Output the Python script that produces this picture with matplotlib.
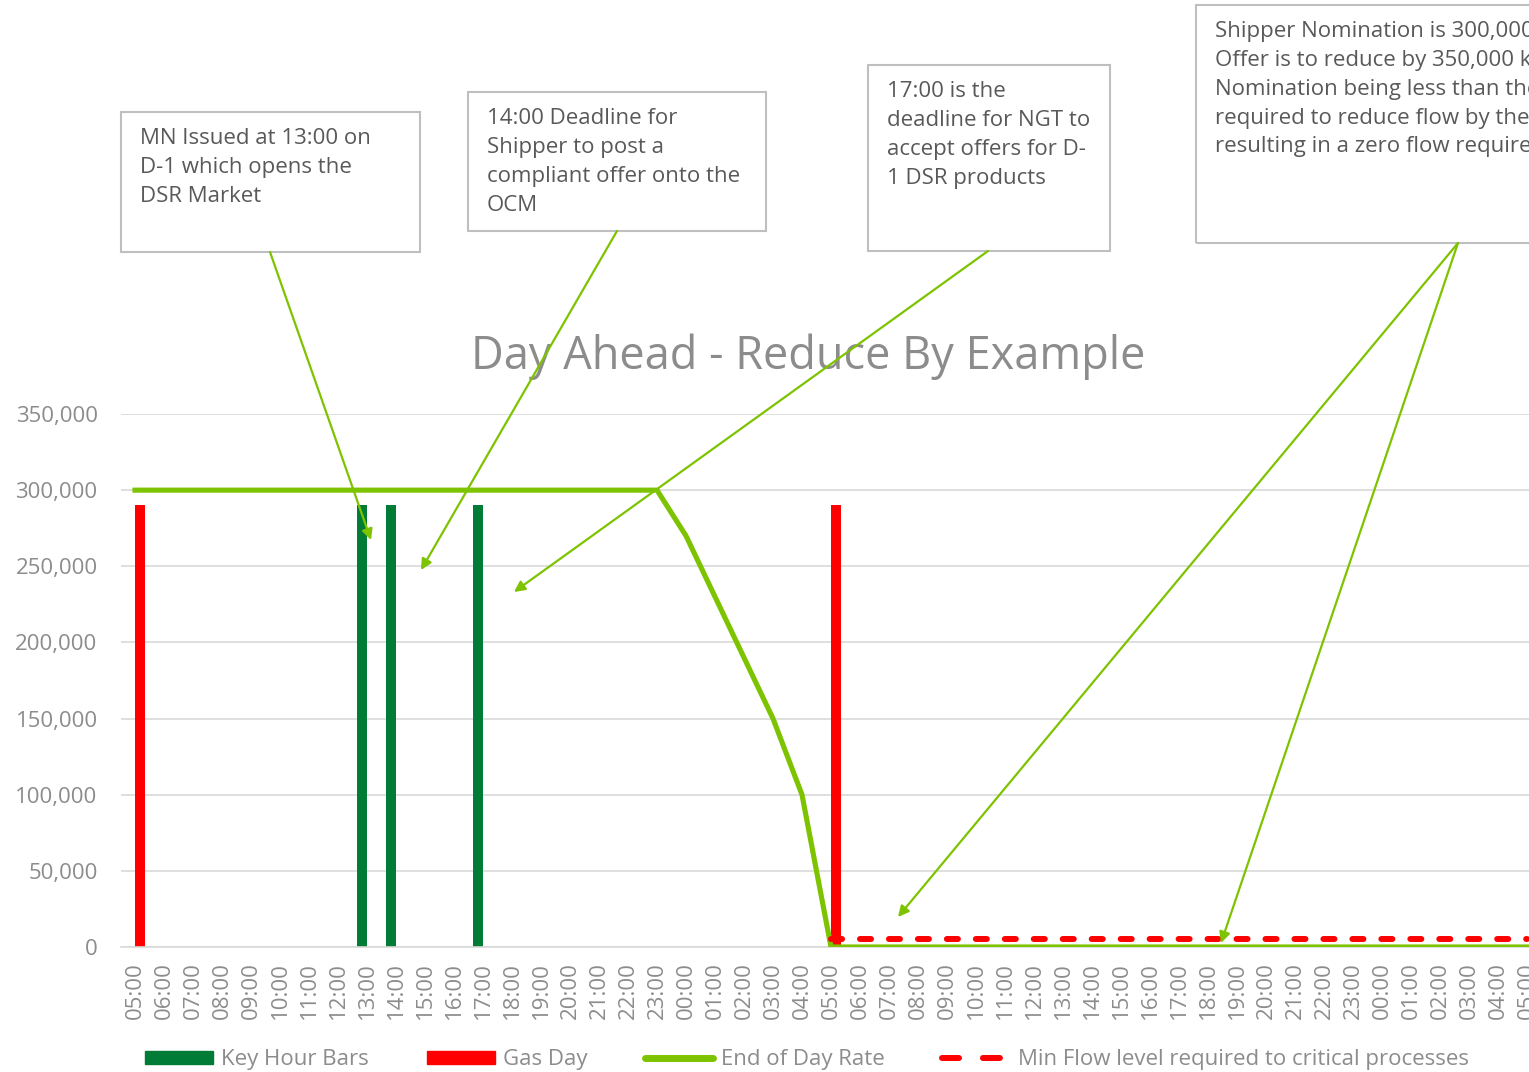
import matplotlib
matplotlib.use("Agg")
import matplotlib.pyplot as plt
from matplotlib.patches import Rectangle, Patch, FancyArrowPatch
from matplotlib.lines import Line2D
import numpy as np

plt.rcParams['font.family'] = ['Open Sans', 'DejaVu Sans']

# categories: two gas days of hourly slots, starting 05:00
hours = ["05:00", "06:00", "07:00", "08:00", "09:00", "10:00", "11:00", "12:00",
         "13:00", "14:00", "15:00", "16:00", "17:00", "18:00", "19:00", "20:00",
         "21:00", "22:00", "23:00", "00:00", "01:00", "02:00", "03:00", "04:00"]
labels = hours + hours + ["05:00"]

# series
key_hour_at = ["13:00", "14:00", "17:00"]          # day 1 only
key_hour_value = 290000
gas_day_idx = [0, 24]
gas_day_value = 290000
end_of_day_rate = [300000] * 19 + [270000, 230000, 190000, 150000, 100000] + [0] * 25
min_flow_level = [np.nan] * 24 + [5000] * 25

GREEN_BAR = "#007C36"
RED = "#FF0000"
LIME = "#7DC300"
GREY = "#8C8C8C"

W, H = 1529, 1072
fig = plt.figure(figsize=(W / 100, H / 100), dpi=100)

x = np.arange(len(labels))
left, right = 120.5, 120.5 + 29 * len(labels)
ax = fig.add_axes([left / W, (H - 947) / H, (right - left) / W, (947 - 414) / H])

kh = [labels.index(h) for h in key_hour_at]
bw = 0.36
ax.bar(np.array(kh) - bw / 2, [key_hour_value] * len(kh), width=bw, color=GREEN_BAR, zorder=2)
ax.bar(np.array(gas_day_idx) + bw / 2, [gas_day_value] * len(gas_day_idx), width=bw, color=RED, zorder=2)
ax.plot(x, end_of_day_rate, color=LIME, lw=3.7, zorder=3, solid_joinstyle='round')
ax.plot(x, min_flow_level, color=RED, lw=4.3, dashes=(1.85, 3.0), dash_capstyle='round', zorder=4)

ax.set_xlim(-0.5, len(labels) - 0.5)
ax.set_ylim(0, 350000)
ax.set_yticks(np.arange(0, 350001, 50000))
ax.set_yticklabels([f"{v:,}" for v in range(0, 350001, 50000)])
ax.set_xticks(x)
ax.set_xticklabels(labels, rotation=90)
ax.tick_params(axis='y', length=0, pad=16.5, labelsize=16, labelcolor=GREY)
ax.tick_params(axis='x', length=0, pad=11, labelsize=16, labelcolor=GREY)
ax.grid(axis='y', color="#D9D9D9", lw=1.2, zorder=0)
ax.set_axisbelow(True)
for s in ['top', 'right', 'left']:
    ax.spines[s].set_visible(False)
ax.spines['bottom'].set_color("#D9D9D9")
ax.spines['bottom'].set_linewidth(1.2)

fig.text(808 / W, 1 - 357 / H, "Day Ahead - Reduce By Example", ha='center', va='center',
         fontsize=32.5, color=GREY)

# callout boxes
def fp(px, py):
    return (px / W, 1 - py / H)

boxes = [
    ((121, 112, 420, 252), "MN Issued at 13:00 on\nD-1 which opens the\nDSR Market",
     [((270, 252), (371, 540))]),
    ((468, 92, 766, 231), "14:00 Deadline for\nShipper to post a\ncompliant offer onto the\nOCM",
     [((617, 231), (421, 570))]),
    ((868, 65, 1110, 251), "17:00 is the\ndeadline for NGT to\naccept offers for D-\n1 DSR products",
     [((988, 251), (514, 592))]),
    ((1196, 5, 1620, 243),
     "Shipper Nomination is 300,000 kWh\nOffer is to reduce by 350,000 kWh.\nNomination being less than the offer,\nrequired to reduce flow by the full\nresulting in a zero flow requirement",
     [((1458, 243), (898, 917)), ((1458, 243), (1221, 943))]),
]
for (x0, y0, x1, y1), txt, arrows in boxes:
    fig.add_artist(Rectangle(fp(x0, y1), (x1 - x0) / W, (y1 - y0) / H, transform=fig.transFigure,
                             fill=False, edgecolor="#BFBFBF", lw=1.5))
    fig.text((x0 + 19) / W, 1 - (y0 + 16) / H, txt, ha='left', va='top', fontsize=16,
             color="#595959", linespacing=1.49)
    for start, end in arrows:
        fig.add_artist(FancyArrowPatch(
            fp(*start), fp(*end), transform=fig.transFigure, arrowstyle='-|>',
            mutation_scale=16, color=LIME, lw=1.6, shrinkA=0, shrinkB=0, zorder=10))

handles = [Patch(color=GREEN_BAR), Patch(color=RED),
           Line2D([], [], color=LIME, lw=5, solid_capstyle='round'),
           Line2D([], [], color=RED, lw=4.3, dashes=(2.85, 4.0), dash_capstyle='round')]
names = ["Key Hour Bars", "Gas Day", "End of Day Rate", "Min Flow level required to critical processes"]
leg = fig.legend(handles, names, loc='center left', bbox_to_anchor=(145 / W, 1 - 1060 / H), ncol=4,
                 frameon=False, fontsize=16, handlelength=3.06, handleheight=0.55,
                 handletextpad=0.36, columnspacing=2.6, labelcolor=GREY,
                 borderpad=0, borderaxespad=0)

fig.savefig("out.png", dpi=100)
